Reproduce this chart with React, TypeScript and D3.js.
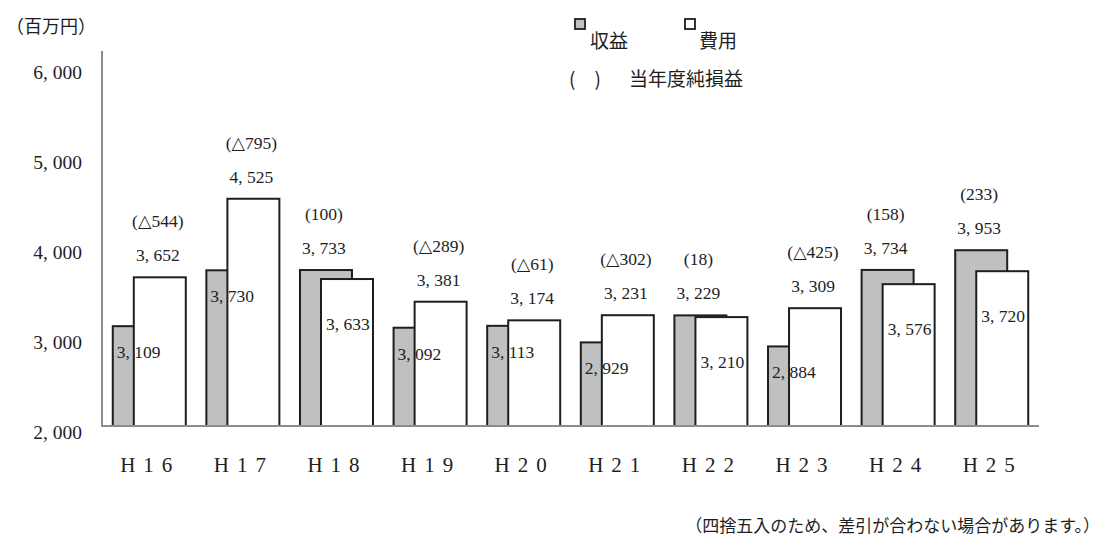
import React from "react";
import * as d3 from "d3";

const categories = ["H16", "H17", "H18", "H19", "H20", "H21", "H22", "H23", "H24", "H25"];
const revenue = [3109, 3730, 3733, 3092, 3113, 2929, 3229, 2884, 3734, 3953];
const cost = [3652, 4525, 3633, 3381, 3174, 3231, 3210, 3309, 3576, 3720];
const netIncome = [-544, -795, 100, -289, -61, -302, 18, -425, 158, 233];
const yTicks = [2000, 3000, 4000, 5000, 6000];

const W = 1104;
const H = 536;
const serif = "'Liberation Serif', 'DejaVu Serif', serif";
const cjk = "'Noto Sans CJK JP', sans-serif";
const ink = "#1e1e1e";

const fmt = (v: number) => d3.format(",")(v).replace(",", ", ");
const fmtNet = (v: number) => (v < 0 ? `(△${Math.abs(v)})` : `(${v})`);

const App: React.FC = () => {
  const x = d3
    .scaleBand<string>()
    .domain(categories)
    .range([102, 1039])
    .paddingInner(0.22)
    .paddingOuter(0.115);
  const y = d3.scaleLinear().domain([2000, 6000]).range([426, 66]);

  const bw = x.bandwidth();
  const barW = bw * 0.712;
  const shift = bw - barW;
  const base = y(2000);

  return (
    <svg
      width={W}
      height={H}
      style={{ position: "absolute", left: 0, top: 0, background: "#fff" }}
    >
      {/* unit */}
      <text x={6} y={25} fontFamily={cjk} fontSize={18} fill={ink} dominantBaseline="central">
        （百万円）
      </text>

      {/* legend */}
      <rect x={575} y={19} width={10} height={10} fill="#c0c0c0" stroke={ink} strokeWidth={1.8} />
      <text x={590} y={39} fontFamily={cjk} fontSize={19} fill={ink} dominantBaseline="central">
        収益
      </text>
      <rect x={685} y={19} width={10} height={10} fill="#fff" stroke={ink} strokeWidth={1.8} />
      <text x={699} y={39} fontFamily={cjk} fontSize={19} fill={ink} dominantBaseline="central">
        費用
      </text>
      <text x={569} y={77} fontFamily={cjk} fontSize={19} fill={ink} dominantBaseline="central">
        (　)
      </text>
      <text x={629} y={77} fontFamily={cjk} fontSize={19} fill={ink} dominantBaseline="central">
        当年度純損益
      </text>

      {/* y tick labels */}
      {yTicks.map(t => (
        <text
          key={t}
          x={82}
          y={y(t) + 6}
          textAnchor="end"
          fontFamily={serif}
          fontSize={19.5}
          fill={ink}
          dominantBaseline="central"
        >
          {fmt(t)}
        </text>
      ))}

      {/* bars */}
      {categories.map((c, i) => {
        const x0 = x(c) as number;
        return (
          <g key={c}>
            <rect
              x={x0}
              y={y(revenue[i])}
              width={barW}
              height={base - y(revenue[i])}
              fill="#c0c0c0"
              stroke={ink}
              strokeWidth={2}
            />
            <rect
              x={x0 + shift}
              y={y(cost[i])}
              width={barW}
              height={base - y(cost[i])}
              fill="#fff"
              stroke={ink}
              strokeWidth={2}
            />
          </g>
        );
      })}

      {/* axes */}
      <line x1={102} x2={102} y1={51} y2={base} stroke="#8c8c8c" strokeWidth={2} />
      <line x1={101} x2={1039} y1={base} y2={base} stroke="#8c8c8c" strokeWidth={2} />

      {/* labels */}
      {categories.map((c, i) => {
        const x0 = x(c) as number;
        const revBigger = revenue[i] >= cost[i];
        const bigX = revBigger ? x0 + barW / 2 : x0 + shift + barW / 2;
        const bigY = y(Math.max(revenue[i], cost[i]));
        const smallV = revBigger ? cost[i] : revenue[i];
        const smallX = revBigger ? x0 + shift + 5 : x0 + 4;
        const smallY = revBigger ? y(cost[i]) + 45 : y(revenue[i]) + 26;
        return (
          <g key={c} fontFamily={serif} fill={ink}>
            <text x={bigX - 2} y={bigY - 56} fontSize={17.5} textAnchor="middle" dominantBaseline="central">
              {fmtNet(netIncome[i])}
            </text>
            <text x={bigX - 2} y={bigY - 22} fontSize={17.5} textAnchor="middle" dominantBaseline="central">
              {fmt(Math.max(revenue[i], cost[i]))}
            </text>
            <text x={smallX} y={smallY} fontSize={17.5} dominantBaseline="central">
              {fmt(smallV)}
            </text>
            <text
              x={x0 + bw / 2 - 3 + 4}
              y={465}
              fontSize={21}
              letterSpacing={8}
              textAnchor="middle"
              dominantBaseline="central"
            >
              {c}
            </text>
          </g>
        );
      })}

      {/* note */}
      <text x={1100} y={524} textAnchor="end" fontFamily={cjk} fontSize={17} fill={ink} dominantBaseline="central">
        （四捨五入のため、差引が合わない場合があります。）
      </text>
    </svg>
  );
};

export default App;
